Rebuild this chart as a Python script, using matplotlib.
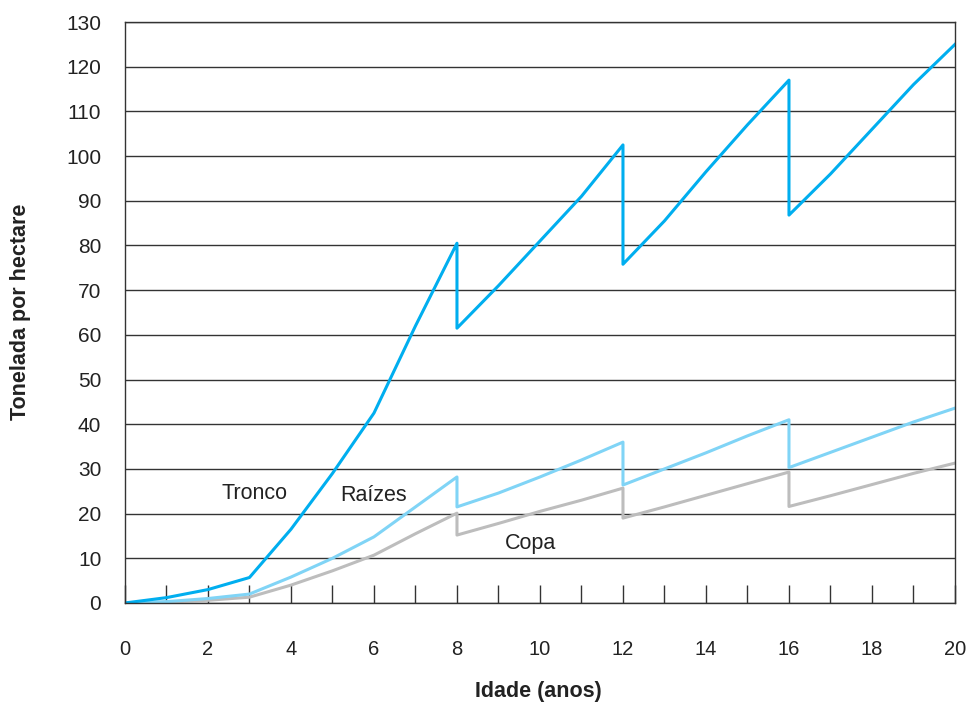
import numpy as np
import matplotlib.pyplot as plt

plt.rcParams['font.family'] = ['Liberation Sans', 'DejaVu Sans']

# idade (anos) - desbastes aos 8, 12 e 16 anos aparecem como pontos repetidos
idade = [0, 1, 2, 3, 4, 5, 6, 7, 8, 8, 9, 10, 11, 12, 12, 13, 14, 15, 16, 16, 17, 18, 19, 20]
tronco = [0, 1.2, 3, 5.7, 16.5, 29, 42.5, 62, 80.5, 61.5, 71, 81, 91, 102.5, 75.8, 85.5, 96.5, 107, 117, 86.8, 96, 106, 116, 125]
raizes = [0, 0.3, 1, 2, 5.8, 10, 14.8, 21.5, 28.2, 21.5, 24.6, 28.2, 32, 36, 26.4, 30, 33.6, 37.4, 41, 30.3, 33.7, 37.1, 40.5, 43.6]
copa = [0, 0.2, 0.6, 1.3, 4, 7.2, 10.7, 15.5, 20.1, 15.2, 17.8, 20.5, 23, 25.7, 19, 21.5, 24.1, 26.7, 29.3, 21.6, 24, 26.5, 29, 31.3]

fig = plt.figure(figsize=(9.71, 7.13), dpi=100)
ax = fig.add_axes([0.1287, 0.1543, 0.8548, 0.8148])

ax.plot(idade, copa, color='#bdbdbd', lw=2.2)
ax.plot(idade, raizes, color='#80d4f6', lw=2.2)
ax.plot(idade, tronco, color='#00aeef', lw=2.2)

ax.set_xlim(0, 20)
ax.set_ylim(0, 130)
ax.set_xticks(range(0, 21, 2))
ax.set_xticks(range(0, 21), minor=True)
ax.set_yticks(range(0, 131, 10))
ax.yaxis.grid(True, color='#333333', lw=1.0)
ax.set_axisbelow(True)
ax.tick_params(axis='x', which='both', direction='in', length=13, width=1, color='#333333',
               pad=27, labelsize=14.5, labelcolor='#222222')
ax.tick_params(axis='y', length=0, pad=17, labelsize=15, labelcolor='#222222')
for s in ['left', 'right', 'bottom', 'top']:
    ax.spines[s].set_color('#333333')
    ax.spines[s].set_linewidth(1.0)

ax.text(3.13, 24.4, 'Tronco', fontsize=15.5, ha='center', va='center', color='#222222')
ax.text(5.98, 24, 'Raízes', fontsize=15.5, ha='center', va='center', color='#222222')
ax.text(9.76, 13.2, 'Copa', fontsize=15.5, ha='center', va='center', color='#222222')

fig.text(0.554, 0.015, 'Idade (anos)', fontsize=15.5, fontweight='bold', ha='center', va='bottom', color='#222222')
fig.text(0.021, 0.562, 'Tonelada por hectare', fontsize=15.5, fontweight='bold', rotation=90,
         ha='center', va='center', color='#222222')

fig.savefig('out.png', dpi=100)
